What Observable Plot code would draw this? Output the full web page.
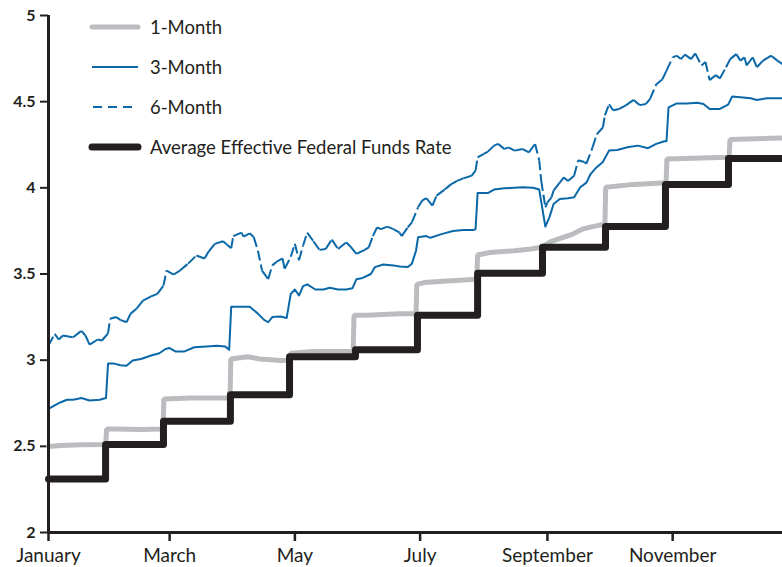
<!DOCTYPE html>
<html>
<head>
<meta charset="utf-8">
<script src="https://cdn.jsdelivr.net/npm/d3@7"></script>
<script src="https://cdn.jsdelivr.net/npm/@observablehq/plot@0.6"></script>
<style>
  body { margin: 0; background: #fff; }
  #wrap { position: relative; width: 782px; height: 567px; }
  #legend { position: absolute; left: 86px; top: 7px; font-family: Lato, sans-serif; font-size: 18.5px; color: #231f20; }
  .item { display: flex; align-items: center; height: 40px; }
  .item svg { margin-right: 6px; }
</style>
</head>
<body>
<div id="wrap"><div id="legend"></div></div>
<script>
const YEAR = 2005;
const monthTickDays = [0, 59, 120, 181, 243, 304];
const monthTickLabels = ["January", "March", "May", "July", "September", "November"];
const yTicks = [2, 2.5, 3, 3.5, 4, 4.5, 5];
const endDay = 357.5;

const seriesNames = ["1-Month", "3-Month", "6-Month", "Average Effective Federal Funds Rate"];

const oneMonthDays = [0, 6, 16, 27.9, 28.3, 32, 45, 55.8, 56.2, 69, 88.4, 88.8, 97, 103, 113, 117.6, 118, 129, 148.4, 148.8, 155, 171, 179, 179.4, 183, 194, 208.6, 209, 215, 227, 235, 240, 245, 250, 255, 260, 265, 271, 271.4, 285, 300.8, 301.2, 318, 331.5, 331.9, 358];
const oneMonthRates = [2.499, 2.505, 2.509, 2.51, 2.60, 2.60, 2.597, 2.60, 2.775, 2.78, 2.78, 3.007, 3.02, 3.007, 2.998, 3.0, 3.04, 3.05, 3.05, 3.26, 3.26, 3.27, 3.27, 3.44, 3.45, 3.46, 3.47, 3.61, 3.625, 3.635, 3.645, 3.655, 3.69, 3.71, 3.73, 3.76, 3.775, 3.79, 4.003, 4.02, 4.03, 4.167, 4.173, 4.177, 4.28, 4.29];

const threeMonthDays = [0, 3, 6, 9, 12, 16, 20, 25, 28, 29, 32, 35, 38, 41, 45, 50, 54, 57, 59, 62, 66, 71, 77, 82, 86, 88, 89, 98, 102, 105, 107, 109, 113, 116, 118, 120, 122, 124, 126, 130, 134, 137, 141, 145, 148, 150, 153, 157, 159, 163, 168, 171, 175, 177, 179, 180, 184, 186, 191, 197, 202, 207, 208, 209, 214, 217, 222, 227, 231, 236, 239, 242, 244, 246, 249, 253, 256, 259, 262, 264, 267, 270, 273, 277, 282, 287, 292, 296, 300, 301, 302, 306, 311, 316, 319, 322, 327, 331, 333, 337, 342, 345, 350, 358];
const threeMonthRates = [2.717, 2.737, 2.756, 2.77, 2.77, 2.78, 2.766, 2.77, 2.78, 2.98, 2.98, 2.97, 2.967, 2.998, 3.007, 3.027, 3.04, 3.065, 3.07, 3.05, 3.05, 3.075, 3.08, 3.083, 3.08, 3.06, 3.31, 3.31, 3.27, 3.234, 3.22, 3.25, 3.253, 3.245, 3.385, 3.41, 3.375, 3.43, 3.44, 3.41, 3.41, 3.42, 3.41, 3.41, 3.417, 3.47, 3.477, 3.50, 3.54, 3.555, 3.55, 3.543, 3.54, 3.56, 3.635, 3.713, 3.72, 3.71, 3.73, 3.75, 3.756, 3.756, 3.76, 3.97, 3.97, 3.99, 3.997, 4.0, 4.003, 4.0, 3.99, 3.775, 3.83, 3.906, 3.935, 3.94, 3.945, 4.003, 4.03, 4.08, 4.12, 4.15, 4.216, 4.22, 4.235, 4.245, 4.23, 4.255, 4.27, 4.27, 4.467, 4.49, 4.49, 4.494, 4.487, 4.458, 4.458, 4.483, 4.53, 4.525, 4.52, 4.51, 4.52, 4.52];

const sixMonthDays = [0, 3, 5, 7, 12, 16, 18, 20, 24, 26, 29, 30, 33, 35, 38, 40, 43, 46, 50, 53, 56, 57.5, 61, 64, 68, 72, 76, 78, 81, 85, 87, 89, 90, 94, 95, 98, 100, 102, 104, 107, 109, 111, 114, 115, 118, 120, 122, 124, 126, 129, 132, 135, 138, 141, 145, 147, 150, 154, 156, 158, 160, 162, 165, 168, 171, 172, 175, 177, 180, 182, 184, 187, 189, 193, 196, 199, 202, 206, 208, 209, 212, 214, 217, 219, 222, 224, 227, 231, 234, 237, 239, 240, 242, 243, 245, 246, 249, 251, 253, 256, 258, 261, 262, 265, 267, 270, 271, 273, 275, 278, 281, 285, 288, 291, 293, 296, 299, 301, 304, 306, 308, 310, 313, 315, 318, 320, 322, 325, 327, 330, 332, 335, 337, 339, 340, 343, 345, 348, 352, 355, 358];
const sixMonthRates = [3.085, 3.152, 3.12, 3.143, 3.133, 3.17, 3.143, 3.09, 3.12, 3.114, 3.156, 3.24, 3.25, 3.234, 3.22, 3.27, 3.30, 3.346, 3.37, 3.385, 3.433, 3.52, 3.497, 3.52, 3.56, 3.607, 3.59, 3.63, 3.675, 3.69, 3.67, 3.65, 3.72, 3.74, 3.717, 3.736, 3.713, 3.635, 3.52, 3.47, 3.55, 3.57, 3.59, 3.53, 3.60, 3.675, 3.58, 3.665, 3.74, 3.69, 3.64, 3.645, 3.70, 3.645, 3.684, 3.66, 3.617, 3.64, 3.655, 3.72, 3.77, 3.76, 3.775, 3.76, 3.74, 3.72, 3.77, 3.80, 3.887, 3.926, 3.94, 3.897, 3.955, 3.99, 4.02, 4.04, 4.055, 4.07, 4.10, 4.177, 4.197, 4.21, 4.245, 4.255, 4.225, 4.235, 4.216, 4.225, 4.206, 4.255, 4.16, 4.04, 3.887, 3.916, 3.945, 3.984, 4.03, 4.06, 4.04, 4.07, 4.16, 4.15, 4.14, 4.235, 4.31, 4.35, 4.42, 4.485, 4.45, 4.458, 4.477, 4.51, 4.48, 4.487, 4.516, 4.60, 4.63, 4.68, 4.757, 4.767, 4.747, 4.773, 4.747, 4.78, 4.71, 4.73, 4.625, 4.654, 4.635, 4.70, 4.747, 4.776, 4.738, 4.757, 4.71, 4.757, 4.70, 4.738, 4.767, 4.738, 4.714];

const fundStepDays = [0, 27.8, 56, 88.6, 117.4, 149.5, 179.7, 209, 240.6, 271.3, 300.5, 331.2, 358];
const fundRates = [2.31, 2.51, 2.646, 2.80, 3.02, 3.06, 3.26, 3.504, 3.655, 3.775, 4.02, 4.17, 4.17];

const colors = { gray: "#bbbcbf", blue: "#0a68a8", black: "#231f20" };

const base = Date.UTC(YEAR, 0, 1);
const toDate = d => new Date(base + d * 864e5);
const pts = (days, vals) => days.map((d, i) => ({ date: toDate(d), v: vals[i] }));

const oneMonth = pts(oneMonthDays, oneMonthRates);
const threeMonth = pts(threeMonthDays, threeMonthRates);
const sixMonth = pts(sixMonthDays, sixMonthRates);
const fund = pts(fundStepDays, fundRates);
const sixSegs = sixMonth.slice(1).map((p, i) => ({ x1: sixMonth[i].date, y1: sixMonth[i].v, x2: p.date, y2: p.v }));

const tickDates = monthTickDays.map(toDate);
const labelMap = new Map(tickDates.map((d, i) => [+d, monthTickLabels[i]]));

const chart = Plot.plot({
  width: 782,
  height: 567,
  marginLeft: 48,
  marginRight: 0,
  marginTop: 15,
  marginBottom: 35,
  style: { background: "#fff", color: colors.black },
  x: { type: "utc", domain: [toDate(0), toDate(endDay)] },
  y: { domain: [2, 5] },
  marks: [
    Plot.axisY({ ticks: yTicks, tickFormat: d => `${d}`, tickSize: 8, tickPadding: 5, strokeWidth: 2, fontSize: 16, fontFamily: "Lato, sans-serif", fontWeight: "bold", label: null }),
    Plot.axisX({ ticks: tickDates, tickFormat: d => labelMap.get(+d), tickSize: 9, tickPadding: 7, strokeWidth: 2.5, fontSize: 19, fontFamily: "Lato, sans-serif", label: null }),
    Plot.line(oneMonth, { x: "date", y: "v", stroke: colors.gray, strokeWidth: 5, strokeLinejoin: "miter" }),
    Plot.line(fund, { x: "date", y: "v", curve: "step-after", stroke: colors.black, strokeWidth: 7, strokeLinejoin: "round", strokeLinecap: "round" }),
    Plot.line(threeMonth, { x: "date", y: "v", stroke: colors.blue, strokeWidth: 2 }),
    Plot.link(sixSegs, { x1: "x1", y1: "y1", x2: "x2", y2: "y2", stroke: colors.blue, strokeWidth: 2, strokeDasharray: "10,4" }),
    Plot.ruleX([toDate(0)], { stroke: colors.black, strokeWidth: 3 }),
    Plot.ruleY([2], { stroke: colors.black, strokeWidth: 3 })
  ]
});
document.getElementById("wrap").prepend(chart);

const legendStyles = [
  { stroke: colors.gray, width: 5, dash: null, cap: "round" },
  { stroke: colors.blue, width: 2, dash: null, cap: "butt" },
  { stroke: colors.blue, width: 2, dash: "9,6", cap: "butt" },
  { stroke: colors.black, width: 7, dash: null, cap: "round" }
];
const legend = document.getElementById("legend");
seriesNames.forEach((name, i) => {
  const s = legendStyles[i];
  const item = document.createElement("div");
  item.className = "item";
  const x1 = i === 2 ? 7 : 6, x2 = i === 2 ? 46 : 52;
  item.innerHTML = `<svg width="58" height="12"><line x1="${x1}" x2="${x2}" y1="6" y2="6" stroke="${s.stroke}" stroke-width="${s.width}" stroke-linecap="${s.cap}" ${s.dash ? `stroke-dasharray="${s.dash}"` : ""}/></svg><span>${name}</span>`;
  legend.appendChild(item);
});
</script>
</body>
</html>
